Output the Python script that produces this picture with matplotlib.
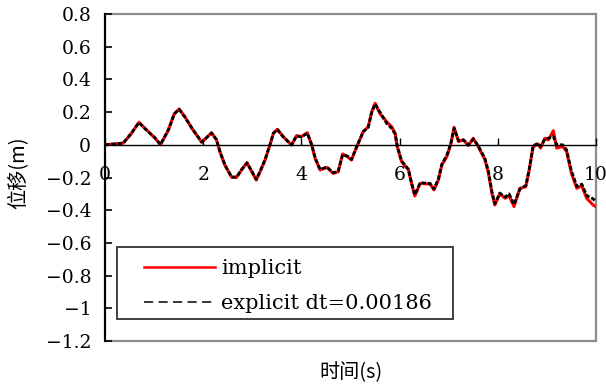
import numpy as np
import matplotlib.pyplot as plt
from matplotlib.patches import Rectangle
from matplotlib.lines import Line2D

plt.rcParams['font.family'] = ['DejaVu Serif', 'Noto Sans CJK SC']
plt.rcParams['font.size'] = 13.5

# implicit solution (s, m)
t_imp = [0.00, 0.37, 0.54, 0.69, 0.85, 1.02, 1.13, 1.29, 1.41, 1.51, 1.63, 1.77,
         1.97, 2.17, 2.27, 2.34, 2.44, 2.58, 2.68, 2.78, 2.89, 2.99, 3.08, 3.16,
         3.26, 3.36, 3.43, 3.51, 3.63, 3.80, 3.90, 4.00, 4.12, 4.21, 4.28, 4.38,
         4.52, 4.65, 4.75, 4.84, 4.94, 5.02, 5.13, 5.26, 5.36, 5.43, 5.50, 5.60,
         5.74, 5.84, 5.91, 5.95, 6.04, 6.18, 6.25, 6.31, 6.42, 6.62, 6.70, 6.79,
         6.86, 6.96, 7.04, 7.11, 7.20, 7.30, 7.40, 7.50, 7.60, 7.74, 7.81, 7.88,
         7.94, 8.04, 8.15, 8.23, 8.33, 8.45, 8.57, 8.64, 8.72, 8.83, 8.87, 8.96,
         9.03, 9.13, 9.20, 9.32, 9.40, 9.50, 9.61, 9.71, 9.81, 9.94, 10.00]
u_imp = [0.000, 0.010, 0.070, 0.138, 0.090, 0.040, 0.000, 0.090, 0.190, 0.219, 0.170, 0.100,
         0.015, 0.074, 0.030, -0.042, -0.124, -0.199, -0.199, -0.154, -0.109, -0.164, -0.215, -0.164,
         -0.093, 0.000, 0.070, 0.095, 0.050, -0.002, 0.056, 0.050, 0.074, -0.002, -0.083, -0.154,
         -0.138, -0.175, -0.164, -0.056, -0.073, -0.093, -0.010, 0.080, 0.110, 0.200, 0.254, 0.190,
         0.140, 0.110, 0.070, -0.010, -0.103, -0.154, -0.246, -0.313, -0.236, -0.240, -0.276, -0.215,
         -0.124, -0.073, 0.000, 0.107, 0.020, 0.030, -0.005, 0.040, -0.010, -0.093, -0.175, -0.297,
         -0.368, -0.300, -0.327, -0.310, -0.378, -0.266, -0.256, -0.154, -0.010, 0.003, -0.020, 0.040,
         0.030, 0.086, -0.020, -0.010, -0.040, -0.175, -0.266, -0.250, -0.327, -0.368, -0.378]

# explicit solution, dt = 0.00186
t_exp = [0.00, 0.37, 0.54, 0.69, 0.85, 1.02, 1.13, 1.29, 1.41, 1.51, 1.63, 1.77,
         1.97, 2.17, 2.27, 2.34, 2.44, 2.58, 2.68, 2.78, 2.89, 2.99, 3.08, 3.16,
         3.26, 3.36, 3.43, 3.51, 3.63, 3.80, 3.90, 4.00, 4.12, 4.21, 4.28, 4.38,
         4.52, 4.65, 4.75, 4.84, 4.94, 5.02, 5.13, 5.26, 5.36, 5.43, 5.50, 5.60,
         5.74, 5.84, 5.91, 5.95, 6.04, 6.18, 6.25, 6.31, 6.42, 6.62, 6.70, 6.79,
         6.86, 6.96, 7.04, 7.11, 7.20, 7.30, 7.40, 7.50, 7.60, 7.74, 7.81, 7.88,
         7.94, 8.04, 8.15, 8.23, 8.33, 8.45, 8.57, 8.64, 8.72, 8.83, 8.87, 8.96,
         9.03, 9.13, 9.20, 9.32, 9.40, 9.50, 9.61, 9.71, 9.81, 9.94, 10.00]
u_exp = [0.000, 0.010, 0.072, 0.136, 0.088, 0.042, 0.002, 0.092, 0.188, 0.217, 0.168, 0.102,
         0.017, 0.072, 0.032, -0.040, -0.122, -0.197, -0.197, -0.152, -0.111, -0.162, -0.212, -0.160,
         -0.090, 0.002, 0.072, 0.093, 0.048, 0.000, 0.054, 0.048, 0.070, 0.000, -0.080, -0.150,
         -0.136, -0.172, -0.160, -0.060, -0.070, -0.090, -0.008, 0.082, 0.105, 0.195, 0.250, 0.200,
         0.130, 0.100, 0.065, -0.005, -0.098, -0.150, -0.240, -0.305, -0.232, -0.236, -0.270, -0.208,
         -0.118, -0.065, 0.005, 0.100, 0.025, 0.030, 0.000, 0.035, -0.005, -0.085, -0.165, -0.285,
         -0.360, -0.295, -0.320, -0.300, -0.365, -0.270, -0.250, -0.150, -0.005, 0.010, -0.010, 0.035,
         0.040, 0.050, 0.000, 0.000, -0.030, -0.160, -0.255, -0.240, -0.310, -0.330, -0.350]

xticks = [0, 2, 4, 6, 8, 10]
yticks = [-1.2, -1, -0.8, -0.6, -0.4, -0.2, 0, 0.2, 0.4, 0.6, 0.8]
ytick_labels = ['\u22121.2', '\u22121', '\u22120.8', '\u22120.6', '\u22120.4', '\u22120.2',
                '0', '0.2', '0.4', '0.6', '0.8']

fig = plt.figure(figsize=(6.06, 3.9), dpi=100)
ax = fig.add_axes([0.1733, 0.1256, 0.8102, 0.8385])

ax.plot(t_imp, u_imp, color='#ff0000', lw=2.2)
ax.plot(t_exp, u_exp, color='black', lw=2.0, ls=(0, (1.6, 0.7)))

ax.set_xlim(0, 10)
ax.set_ylim(-1.2, 0.8)
ax.set_xticks(xticks)
ax.set_xticklabels([str(x) for x in xticks])
ax.set_yticks(yticks)
ax.set_yticklabels(ytick_labels)

# x axis runs through zero, plot frame drawn in grey
for s in ['top', 'right']:
    ax.spines[s].set_visible(False)
ax.spines['bottom'].set_position(('data', 0))
ax.spines['bottom'].set_linewidth(1.0)
ax.spines['left'].set_linewidth(1.5)
frame = Rectangle((0, 0), 1, 1, transform=ax.transAxes, fill=False,
                  edgecolor='#8c8c8c', lw=1.6, zorder=0.5, clip_on=False)
ax.add_artist(frame)

ax.tick_params(axis='y', direction='in', length=5, width=1.2, pad=10)
ax.tick_params(axis='x', direction='in', length=5, width=1.0, pad=15)

ax.set_xlabel('时间(s)', family=['Noto Sans CJK SC'], fontsize=14.5)
ax.set_ylabel('位移(m)', family=['Noto Sans CJK SC'], fontsize=14.5)
ax.xaxis.set_label_coords(0.5, -0.065)
ax.yaxis.set_label_coords(-0.156, 0.515)

# legend box drawn on its own: more room left of the handles than on the right
legbox = Rectangle((0.0244, 0.0673), 0.6844, 0.2202, transform=ax.transAxes,
                   facecolor='white', edgecolor='#404040', lw=1.4, zorder=3, clip_on=False)
ax.add_artist(legbox)
handles = [Line2D([], [], color='#ff0000', lw=1.8),
           Line2D([], [], color='black', lw=1.1, ls=(0, (6, 3.5)))]
leg = ax.legend(handles, ['implicit', 'explicit dt=0.00186'],
                loc='upper left', bbox_to_anchor=(0.0794, 0.250), borderaxespad=0,
                frameon=False, handlelength=3.4, handletextpad=0.3,
                labelspacing=0.75, borderpad=0, fontsize=15)
leg.set_zorder(4)

fig.savefig('out.png', dpi=100)
